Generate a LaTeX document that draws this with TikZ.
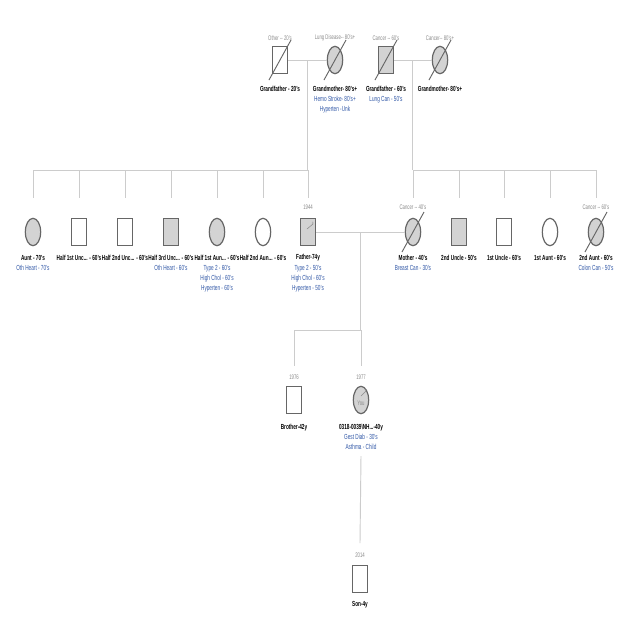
\documentclass[tikz,border=0pt]{standalone}
\usepackage{fontspec}
\setmainfont{Liberation Sans}[FakeStretch=0.64]
\usetikzlibrary{shapes.geometric,calc}

\definecolor{symedge}{HTML}{666666}
\definecolor{symfill}{HTML}{D3D3D3}
\definecolor{linkgray}{HTML}{CCCCCC}
\definecolor{notegray}{HTML}{8A8A8A}
\definecolor{dxblue}{HTML}{2F56A6}

\tikzset{
  male/.style={draw=symedge, line width=0.9pt, rectangle, minimum width=11pt, minimum height=20pt, inner sep=0pt},
  female/.style={draw=symedge, line width=0.9pt, ellipse, minimum width=11.5pt, minimum height=20.5pt, inner sep=0pt},
  affected/.style={fill=symfill},
  link/.style={draw=linkgray, line width=0.7pt},
  deadline/.style={draw=symedge, line width=0.7pt},
  namelbl/.style={font=\bfseries\fontsize{5.5}{6.5}\selectfont, text=black, inner sep=0pt},
  dxlbl/.style={font=\fontsize{5.5}{7.5}\selectfont, text=dxblue, inner sep=0pt, align=center, anchor=north},
  notelbl/.style={font=\fontsize{5}{6}\selectfont, text=notegray, inner sep=0pt}
}
\newcommand{\deceased}[1]{\draw[deadline] ($(#1.center)+(-11,20)$) -- ($(#1.center)+(11,-20)$);}

\begin{document}
\begin{tikzpicture}[x=0.75pt,y=0.75pt,yscale=-1,xscale=1]
\path[fill=white] (0,0) rectangle (640,640);
\useasboundingbox (0,0) rectangle (640,640);

%Grandparents, father's side
\node[male] (gf1) at (280,60) {};
\node[female,affected] (gm1) at (335,60) {};
\deceased{gf1}
\deceased{gm1}
\node[notelbl] at (280,38) {Other -{}- 20's};
\node[notelbl] at (335,38) {Lung Disease-{}- 80's+};
\node[namelbl] at (280,89) {Grandfather - 20's};
\node[namelbl] at (335,89) {Grandmother- 80's+};
\node[dxlbl] at (335,96) {Hemo Stroke- 80's+\\Hyperten -Unk};

%Grandparents, mother's side
\node[male,affected] (gf2) at (386,60) {};
\node[female,affected] (gm2) at (440,60) {};
\deceased{gf2}
\deceased{gm2}
\node[notelbl] at (386,38) {Cancer -{}- 60's};
\node[notelbl] at (440,38) {Cancer-{}- 80's+};
\node[namelbl] at (386,89) {Grandfather - 60's};
\node[namelbl] at (440,89) {Grandmother- 80's+};
\node[dxlbl] at (386,96) {Lung Can - 50's};

%Parents' generation
\node[female,affected] (aunt) at (33,232) {};
\node[male] (hunc1) at (79,232) {};
\node[male] (hunc2) at (125,232) {};
\node[male,affected] (hunc3) at (171,232) {};
\node[female,affected] (haunt1) at (217,232) {};
\node[female] (haunt2) at (263,232) {};
\node[male,affected] (father) at (308,232) {};
\node[female,affected] (mother) at (413,232) {};
\node[male,affected] (unc2) at (459,232) {};
\node[male] (unc1) at (504,232) {};
\node[female] (aunt1) at (550,232) {};
\node[female,affected] (aunt2) at (596,232) {};
\deceased{mother}
\deceased{aunt2}

\node[notelbl] at (308,207) {1944};
\node[notelbl] at (413,207) {Cancer -{}- 40's};
\node[notelbl] at (596,207) {Cancer -{}- 60's};

\node[namelbl] at (33,258) {Aunt - 70's};
\node[namelbl] at (79,258) {Half 1st Unc... - 60's};
\node[namelbl] at (125,258) {Half 2nd Unc... - 60's};
\node[namelbl] at (171,258) {Half 3rd Unc... - 60's};
\node[namelbl] at (217,258) {Half 1st Aun... - 60's};
\node[namelbl] at (263,258) {Half 2nd Aun... - 60's};
\node[namelbl] at (308,258) {Father-74y};
\node[namelbl] at (413,258) {Mother - 40's};
\node[namelbl] at (459,258) {2nd Uncle - 50's};
\node[namelbl] at (504,258) {1st Uncle - 60's};
\node[namelbl] at (550,258) {1st Aunt - 60's};
\node[namelbl] at (596,258) {2nd Aunt - 60's};

\node[dxlbl] at (33,265) {Oth Heart - 70's};
\node[dxlbl] at (171,265) {Oth Heart - 60's};
\node[dxlbl] at (217,265) {Type 2 - 60's\\High Chol - 60's\\Hyperten - 60's};
\node[dxlbl] at (308,265) {Type 2 - 50's\\High Chol - 60's\\Hyperten - 50's};
\node[dxlbl] at (413,265) {Breast Can - 30's};
\node[dxlbl] at (596,265) {Colon Can - 50's};

%Father's mark
\draw[deadline, draw=notegray, line width=0.4pt] ($(father.center)+(-1,-3)$) -- ($(father.center)+(5,-8)$);
\node[notelbl, font=\fontsize{4.5}{5}\selectfont] at ($(father.center)+(5,-8)$) {+};

%Own generation
\node[male] (brother) at (294,400) {};
\node[female,affected] (you) at (361,400) {};
\node[notelbl, font=\fontsize{5}{6}\selectfont] at ($(you.center)+(0,3)$) {You};
\draw[deadline, draw=notegray, line width=0.4pt] ($(you.center)+(0,-4)$) -- ($(you.center)+(5,-9)$);
\node[notelbl, font=\fontsize{4.5}{5}\selectfont] at ($(you.center)+(5,-9)$) {+};
\node[notelbl] at (294,377) {1976};
\node[notelbl] at (361,377) {1977};
\node[namelbl] at (294,428) {Brother-42y};
\node[namelbl] at (361,428) {0318-0039\textbackslash NH...-40y};
\node[dxlbl] at (361,434) {Gest Diab - 30's\\Asthma - Child};

%Son
\node[male] (son) at (360,579) {};
\node[notelbl] at (360,555) {2014};
\node[namelbl] at (360,605) {Son-4y};

%Straight Lines
\coordinate (gp1) at ($(gf1.east)!0.5!(gm1.west)$);
\coordinate (gp2) at ($(gf2.east)!0.5!(gm2.west)$);
\coordinate (sibL) at (308,170);
\coordinate (sibR) at (413,170);
\draw[link] (gf1.east) -- (gm1.west);
\draw[link] (gf2.east) -- (gm2.west);
\draw[link] (gp1) -- (gp1 |- sibL);
\draw[link] (gp2) -- (gp2 |- sibR);
\draw[link] (aunt |- sibL) -- (father |- sibL);
\draw[link] (mother |- sibR) -- (aunt2 |- sibR);
\foreach \p in {aunt,hunc1,hunc2,hunc3,haunt1,haunt2,father,mother,unc2,unc1,aunt1,aunt2}
  \draw[link] (\p |- sibL) -- ($(\p.north)+(0,-20)$);

\coordinate (fm) at ($(father.east)!0.5!(mother.west)$);
\coordinate (sib3) at (361,330);
\draw[link] (father.east) -- (mother.west);
\draw[link] (fm) -- (fm |- sib3);
\draw[link] (brother |- sib3) -- (you |- sib3);
\foreach \p in {brother,you}
  \draw[link] (\p |- sib3) -- ($(\p.north)+(0,-20)$);

\coordinate (youdesc) at (361,456);
\draw[link] (youdesc) -- ($(son.north)+(0,-22)$);

\end{tikzpicture}
\end{document}
